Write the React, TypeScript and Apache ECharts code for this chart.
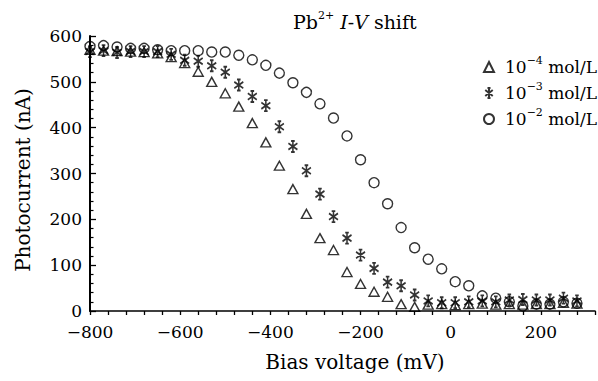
import React, { useEffect, useRef } from 'react';
import * as echarts from 'echarts';

// Bias voltage (mV)
const biasVoltage = [
  -800, -770, -740, -710, -680, -650, -620, -590, -560, -530, -500, -470, -440,
  -410, -380, -350, -320, -290, -260, -230, -200, -170, -140, -110, -80, -50,
  -20, 10, 40, 70, 100, 130, 160, 190, 220, 250, 280,
];

// Photocurrent (nA), 10^-4 mol/L
const conc4 = [
  570, 568, 567, 566, 565, 562, 554, 541, 522, 500, 475, 446, 410,
  368, 317, 266, 212, 159, 133, 85, 59, 42, 31, 15, 9, 14,
  15, 13, 15, 16, 14, 15, 14, 15, 15, 18, 16,
];

// Photocurrent (nA), 10^-3 mol/L
const conc3 = [
  566, 568, 564, 566, 566, 566, 560, 547, 545, 535, 521, 493, 468,
  448, 402, 359, 306, 255, 206, 159, 122, 93, 63, 55, 35, 22,
  18, 18, 20, 22, 20, 24, 25, 24, 24, 28, 22,
];

// Photocurrent (nA), 10^-2 mol/L
const conc2 = [
  577, 579, 576, 573, 573, 570, 568, 568, 568, 565, 565, 558, 548,
  536, 519, 498, 477, 452, 421, 382, 330, 280, 234, 182, 138, 113,
  92, 64, 55, 33, 28, 20, 11, 15, 15, 20, 17,
];

const xTickLabels = [-800, -600, -400, -200, 0, 200];
const seriesNames = ['1e-4', '1e-3', '1e-2'];
const legendLabels = ['10{sup|\u22124} mol/L', '10{sup|\u22123} mol/L', '10{sup|\u22122} mol/L'];

const FONT = 'DejaVu Serif';
const ASTERISK =
  'path://M5,0L5,12M0.5,2.5L9.5,9.5M9.5,2.5L0.5,9.5M3.2,0L6.8,0M3.2,12L6.8,12';

export default function App() {
  const ref = useRef<HTMLDivElement>(null);

  useEffect(() => {
    if (!ref.current) return;
    const chart = echarts.init(ref.current, undefined, { renderer: 'svg' });
    const hollow = { color: 'rgba(0,0,0,0)', borderColor: '#000', borderWidth: 1.4 };
    const pairs = (ys: number[]) => biasVoltage.map((x, i) => [x, ys[i]]);

    chart.setOption({
      animation: false,
      backgroundColor: '#fff',
      textStyle: { fontFamily: FONT },
      title: {
        text: 'Pb{sup|2+} {it|I}-{it|V} shift',
        left: 288,
        top: 5,
        textStyle: {
          fontFamily: FONT,
          fontSize: 19,
          fontWeight: 'normal',
          color: '#000',
          lineHeight: 24,
          rich: {
            sup: { fontFamily: FONT, fontSize: 11, lineHeight: 12, verticalAlign: 'top', color: '#000' },
            it: { fontFamily: FONT, fontSize: 19, lineHeight: 24, fontStyle: 'italic', color: '#000' },
          },
        },
      },
      legend: {
        orient: 'vertical',
        left: 478,
        top: 50,
        itemWidth: 10,
        itemHeight: 10,
        itemGap: 2,
        selectedMode: false,
        data: seriesNames,
        formatter: (n: string) => legendLabels[seriesNames.indexOf(n)],
        textStyle: {
          fontFamily: FONT,
          fontWeight: 'normal',
          fontSize: 17,
          color: '#000',
          lineHeight: 24,
          padding: [0, 0, 0, 6],
          rich: {
            sup: { fontFamily: FONT, fontSize: 11, lineHeight: 12, verticalAlign: 'top', color: '#000' },
          },
        },
      },
      grid: { left: 90, right: -4, top: 36, bottom: 70, containLabel: false },
      xAxis: {
        type: 'value',
        min: -800,
        max: 320,
        interval: 40,
        axisLine: { onZero: false, lineStyle: { color: '#000', width: 1.6 } },
        axisTick: { inside: false, length: 4, lineStyle: { color: '#000', width: 1.3 } },
        axisLabel: {
          margin: 12,
          fontFamily: FONT,
          fontWeight: 'normal',
          fontSize: 17,
          color: '#000',
          formatter: (v: number) => {
            const r = Math.round(v);
            if (!xTickLabels.includes(r)) return '';
            return r < 0 ? '\u2212' + Math.abs(r) : String(r);
          },
        },
        splitLine: { show: false },
      },
      yAxis: {
        type: 'value',
        min: 0,
        max: 600,
        interval: 100,
        axisLine: { show: true, onZero: false, lineStyle: { color: '#000', width: 2 } },
        axisTick: { show: true, inside: true, length: 6, lineStyle: { color: '#000', width: 1.3 } },
        minorTick: { show: true, splitNumber: 5, length: 3.5, lineStyle: { color: '#000', width: 1.2 } },
        axisLabel: { margin: 8, fontFamily: FONT, fontWeight: 'normal', fontSize: 17, color: '#000' },
        splitLine: { show: false },
      },
      graphic: [
        {
          type: 'text',
          x: 355,
          y: 362,
          style: {
            text: 'Bias voltage (mV)',
            fontFamily: FONT,
            fontWeight: 'normal',
            fontSize: 20,
            fill: '#000',
            align: 'center',
            verticalAlign: 'middle',
          },
        },
        {
          type: 'text',
          x: 23,
          y: 180,
          rotation: Math.PI / 2,
          style: {
            text: 'Photocurrent (nA)',
            fontFamily: FONT,
            fontWeight: 'normal',
            fontSize: 20,
            fill: '#000',
            align: 'center',
            verticalAlign: 'middle',
          },
        },
      ],
      series: [
        {
          type: 'scatter',
          name: seriesNames[0],
          data: pairs(conc4),
          symbol: 'triangle',
          symbolSize: [10, 9],
          itemStyle: hollow,
        },
        {
          type: 'scatter',
          name: seriesNames[1],
          data: pairs(conc3),
          symbol: ASTERISK,
          symbolSize: [9, 11],
          itemStyle: { ...hollow, borderWidth: 1.7 },
        },
        {
          type: 'scatter',
          name: seriesNames[2],
          data: pairs(conc2),
          symbol: 'circle',
          symbolSize: 10,
          itemStyle: hollow,
        },
      ],
    });

    return () => chart.dispose();
  }, []);

  return (
    <div
      ref={ref}
      style={{ position: 'fixed', left: 0, top: 0, width: 598, height: 381, background: '#fff' }}
    />
  );
}
